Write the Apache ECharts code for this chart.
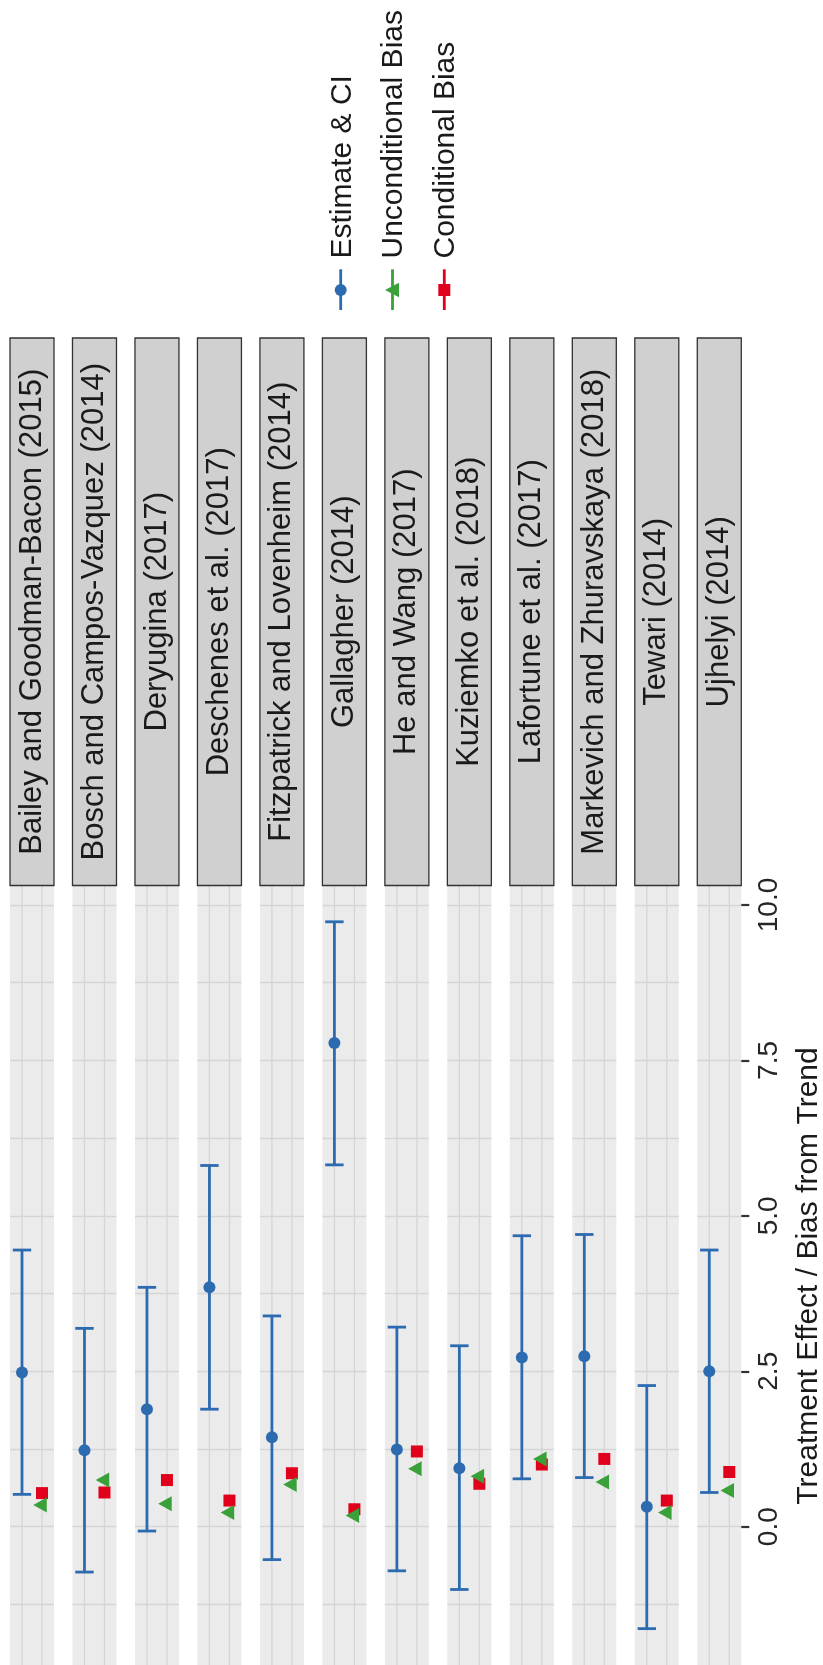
<!DOCTYPE html>
<html>
<head>
<meta charset="utf-8">
<script src="https://cdn.jsdelivr.net/npm/echarts@6/dist/echarts.min.js"></script>
<style>
  html, body { margin: 0; padding: 0; background: #ffffff; }
  #chart { width: 823px; height: 1665px; }
</style>
</head>
<body>
<div id="chart"></div>
<script>
// Studies, one facet each
const studies = [
  'Bailey and Goodman-Bacon (2015)',
  'Bosch and Campos-Vazquez (2014)',
  'Deryugina (2017)',
  'Deschenes et al. (2017)',
  'Fitzpatrick and Lovenheim (2014)',
  'Gallagher (2014)',
  'He and Wang (2017)',
  'Kuziemko et al. (2018)',
  'Lafortune et al. (2017)',
  'Markevich and Zhuravskaya (2018)',
  'Tewari (2014)',
  'Ujhelyi (2014)'
];

// Point estimates and confidence limits
const estimate = [2.48, 1.23, 1.89, 3.85, 1.44, 7.78, 1.24, 0.94, 2.72, 2.74, 0.32, 2.50];
const ciLow    = [0.52, -0.73, -0.07, 1.89, -0.53, 5.82, -0.71, -1.01, 0.77, 0.79, -1.64, 0.55];
const ciHigh   = [4.45, 3.19, 3.85, 5.81, 3.39, 9.73, 3.21, 2.91, 4.68, 4.70, 2.27, 4.45];

// Bias from trend
const uncondBias = [0.35, 0.75, 0.37, 0.23, 0.68, 0.18, 0.93, 0.81, 1.09, 0.72, 0.23, 0.58];
const condBias   = [0.54, 0.55, 0.75, 0.42, 0.86, 0.28, 1.21, 0.69, 1.00, 1.09, 0.42, 0.88];

// Discrete positions inside a facet: estimate row and bias row
const rowPos = { estimate: 1, bias: 2 };

// Value-axis tick labels
const valueTicks = [0, 2.5, 5, 7.5, 10];

const legendLabels = ['Estimate & CI', 'Unconditional Bias', 'Conditional Bias'];
const axisTitle = 'Treatment Effect / Bias from Trend';

// ---- styling / layout ----
const FONT = "'Liberation Sans', Arial, Helvetica, sans-serif";
const BLUE = '#2d6bb0', GREEN = '#3aa03a', RED = '#e0001b';
const GRID_LINE = '#d5d5d5';
const PANEL_X0 = 10, PANEL_STEP = 62.48, PANEL_W = 44;
const PANEL_TOP = 827.3, PANEL_H = 854.8;   // value range -2.5 .. 11.25
const STRIP_TOP = 338, STRIP_H = 547.5;
const LINE_W = 2.8, CAP_HALF = 9.2;

function renderErrorBar(params, api) {
  const cs = params.coordSys;
  const x = api.value(0);
  const lo = api.coord([x, api.value(1)]);
  const hi = api.coord([x, api.value(2)]);
  const children = [];
  // vertical panel grid lines at the two discrete positions
  [rowPos.estimate, rowPos.bias].forEach(function (p) {
    const px = api.coord([p, 0])[0];
    children.push({ type: 'line', shape: { x1: px, y1: cs.y, x2: px, y2: cs.y + cs.height },
      style: { stroke: GRID_LINE, lineWidth: 1.3 } });
  });
  const st = { stroke: BLUE, lineWidth: LINE_W };
  children.push({ type: 'line', shape: { x1: lo[0], y1: lo[1], x2: hi[0], y2: hi[1] }, style: st });
  children.push({ type: 'line', shape: { x1: hi[0] - CAP_HALF, y1: hi[1], x2: hi[0] + CAP_HALF, y2: hi[1] }, style: st });
  children.push({ type: 'line', shape: { x1: lo[0] - CAP_HALF, y1: lo[1], x2: lo[0] + CAP_HALF, y2: lo[1] }, style: st });
  return { type: 'group', children: children };
}

const grids = [], xAxes = [], yAxes = [], series = [], graphics = [];

studies.forEach(function (name, i) {
  const left = PANEL_X0 + i * PANEL_STEP;
  const last = i === studies.length - 1;

  grids.push({ left: left, top: PANEL_TOP, width: PANEL_W, height: PANEL_H,
    show: true, backgroundColor: '#ebebeb', borderWidth: 0, containLabel: false,
    outerBoundsMode: 'none' });

  xAxes.push({ gridIndex: i, type: 'value', min: 0.4, max: 2.6, show: false });

  yAxes.push({
    gridIndex: i, type: 'value', min: -2.5, max: 11.25, interval: 1.25,
    position: last ? 'right' : 'left',
    axisLine: { show: false },
    axisTick: last ? { show: true, customValues: valueTicks, length: 8,
      lineStyle: { color: '#333333', width: 2.2 } } : { show: false },
    axisLabel: last ? { show: true, customValues: valueTicks, rotate: 90, margin: 14,
      fontSize: 28, fontFamily: FONT, color: '#262626',
      formatter: function (v) { return valueTicks.indexOf(Number(v)) >= 0 ? Number(v).toFixed(1) : ''; } }
      : { show: false },
    splitLine: { show: true, lineStyle: { color: GRID_LINE, width: 1.3 } }
  });

  series.push({ type: 'custom', xAxisIndex: i, yAxisIndex: i, renderItem: renderErrorBar,
    data: [[rowPos.estimate, ciLow[i], ciHigh[i]]], silent: true, animation: false });
  series.push({ type: 'scatter', name: legendLabels[0], xAxisIndex: i, yAxisIndex: i,
    data: [[rowPos.estimate, estimate[i]]], symbol: 'circle', symbolSize: 12,
    itemStyle: { color: BLUE, opacity: 1 }, silent: true, animation: false });
  series.push({ type: 'scatter', name: legendLabels[2], xAxisIndex: i, yAxisIndex: i,
    data: [[rowPos.bias, condBias[i]]], symbol: 'rect', symbolSize: 12,
    itemStyle: { color: RED, opacity: 1 }, silent: true, animation: false });
  series.push({ type: 'scatter', name: legendLabels[1], xAxisIndex: i, yAxisIndex: i,
    data: [[rowPos.bias, uncondBias[i]]], symbol: 'triangle', symbolSize: [15, 13.5],
    symbolRotate: 90, symbolOffset: [-2, 0],
    itemStyle: { color: GREEN, opacity: 1 }, silent: true, animation: false });

  // facet strip
  graphics.push({ type: 'rect', x: left, y: STRIP_TOP, z: 100,
    shape: { width: PANEL_W, height: STRIP_H },
    style: { fill: '#d0d0d0', stroke: '#333333', lineWidth: 1.3 } });
  graphics.push({ type: 'text', x: left + PANEL_W / 2, y: STRIP_TOP + STRIP_H / 2,
    rotation: Math.PI / 2, z: 101,
    style: { text: name, fontSize: 31, fontFamily: FONT, fill: '#1a1a1a',
      align: 'center', verticalAlign: 'middle' } });
});

// axis title
graphics.push({ type: 'text', x: 808.6, y: 1276, rotation: Math.PI / 2, z: 101,
  style: { text: axisTitle, fontSize: 30, fontFamily: FONT, fill: '#1a1a1a',
    align: 'center', verticalAlign: 'middle' } });

// legend keys (point-range style)
const legendColors = [BLUE, GREEN, RED];
legendLabels.forEach(function (label, k) {
  const kx = 340.7 + k * 51.8;
  const color = legendColors[k];
  graphics.push({ type: 'line', z: 100, shape: { x1: kx, y1: 269.3, x2: kx, y2: 310 },
    style: { stroke: color, lineWidth: LINE_W } });
  if (k === 0) {
    graphics.push({ type: 'circle', z: 101, shape: { cx: kx, cy: 290, r: 6 }, style: { fill: color } });
  } else if (k === 1) {
    graphics.push({ type: 'polygon', z: 101,
      shape: { points: [[kx - 7.5, 290], [kx + 6.5, 282.8], [kx + 6.5, 297.2]] }, style: { fill: color } });
  } else {
    graphics.push({ type: 'rect', z: 101, shape: { x: kx - 6, y: 284, width: 12, height: 12 }, style: { fill: color } });
  }
  graphics.push({ type: 'text', x: kx + 1.7, y: 258.5, rotation: Math.PI / 2, z: 101,
    style: { text: label, fontSize: 30, fontFamily: FONT, fill: '#1a1a1a',
      align: 'left', verticalAlign: 'middle' } });
});

const chart = echarts.init(document.getElementById('chart'), null, { renderer: 'canvas' });
chart.setOption({
  backgroundColor: '#ffffff',
  animation: false,
  grid: grids,
  xAxis: xAxes,
  yAxis: yAxes,
  series: series,
  graphic: { elements: graphics }
});
</script>
</body>
</html>
